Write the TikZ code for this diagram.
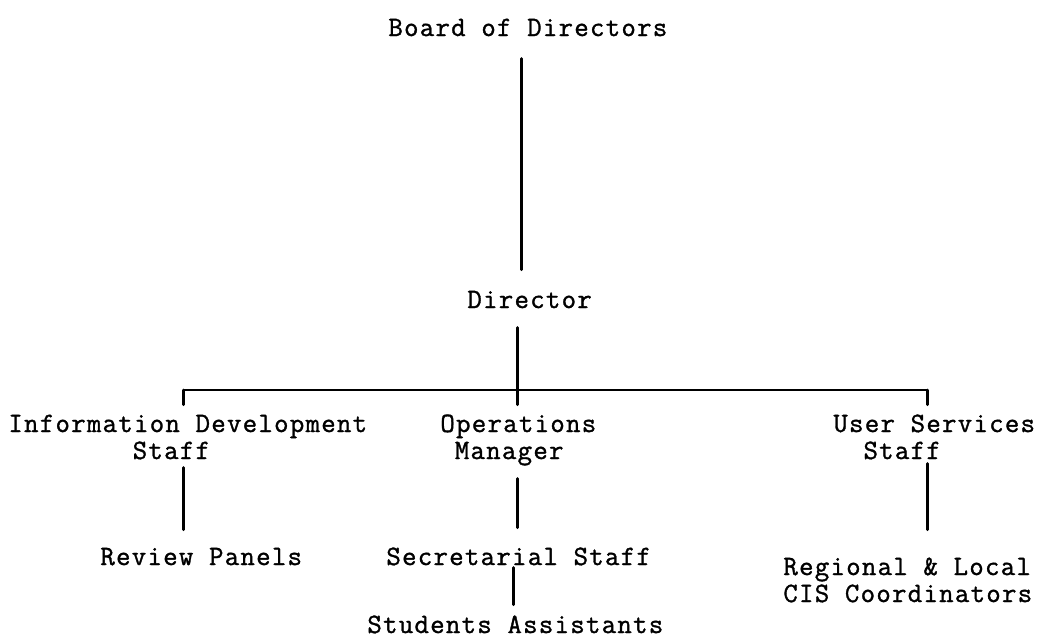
\documentclass[tikz,border=0pt]{standalone}
\usepackage{fontspec}
\newfontfamily\typewriter[FakeBold=1.2,LetterSpace=4.6]{Latin Modern Mono}
\begin{document}
\begin{tikzpicture}[x=0.5pt,y=-0.5pt,
  lbl/.style={font=\typewriter\fontsize{14}{13.5}\selectfont, inner sep=0pt, anchor=base west},
  one/.style={text height=9.45pt, text depth=4.05pt},
  conn/.style={line width=1.5pt, line cap=round},
  barline/.style={line width=1.1pt}]
\useasboundingbox (0,0) rectangle (1042,639);
% column x positions of the connectors
\coordinate (xb) at (521,0);
\coordinate (xm) at (517,0);
\coordinate (xs) at (513,0);
\coordinate (bl) at (183,390);
\coordinate (br) at (927,390);
% labels
\node[lbl,one] (board) at (388,36) {Board of Directors};
\node[lbl,one] (dir) at (467,308) {Director};
\node[lbl] (ids) at (8,432) {\begin{tabular}[t]{@{}l@{}}Information Development\\\hphantom{XXXXXXXX}Staff\end{tabular}};
\node[lbl] (ops) at (440,432) {\begin{tabular}[t]{@{}l@{}}Operations\\\hphantom{X}Manager\end{tabular}};
\node[lbl] (usr) at (833,432) {\begin{tabular}[t]{@{}l@{}}User Services\\\hphantom{XX}Staff\end{tabular}};
\node[lbl,one] (rev) at (100,565) {Review Panels};
\node[lbl,one] (sec) at (386,565) {Secretarial Staff};
\node[lbl,one] (stu) at (367,633) {Students Assistants};
\node[lbl] (reg) at (783,575) {\begin{tabular}[t]{@{}l@{}}Regional \& Local\\CIS Coordinators\end{tabular}};
% connectors
\draw[conn, shorten <=7pt, shorten >=9.5pt] (board.south -| xb) -- (dir.north -| xb);
\draw[conn, shorten <=5.5pt, shorten >=4pt] (dir.south -| xm) -- (ops.north -| xm);
\draw[barline] (bl) -- (br);
\draw[conn, shorten >=4pt] (bl) -- (ids.north -| bl);
\draw[conn, shorten >=4pt] (br) -- (usr.north -| br);
\draw[conn, shorten <=0pt, shorten >=8pt] (ids.south -| bl) -- (rev.north -| bl);
\draw[conn, shorten <=5.5pt, shorten >=9pt] (ops.south -| xm) -- (sec.north -| xm);
\draw[conn, shorten <=-3pt, shorten >=4.5pt] (sec.south -| xs) -- (stu.north -| xs);
\draw[conn, shorten <=-2pt, shorten >=13pt] (usr.south -| br) -- (reg.north -| br);
\end{tikzpicture}
\end{document}
